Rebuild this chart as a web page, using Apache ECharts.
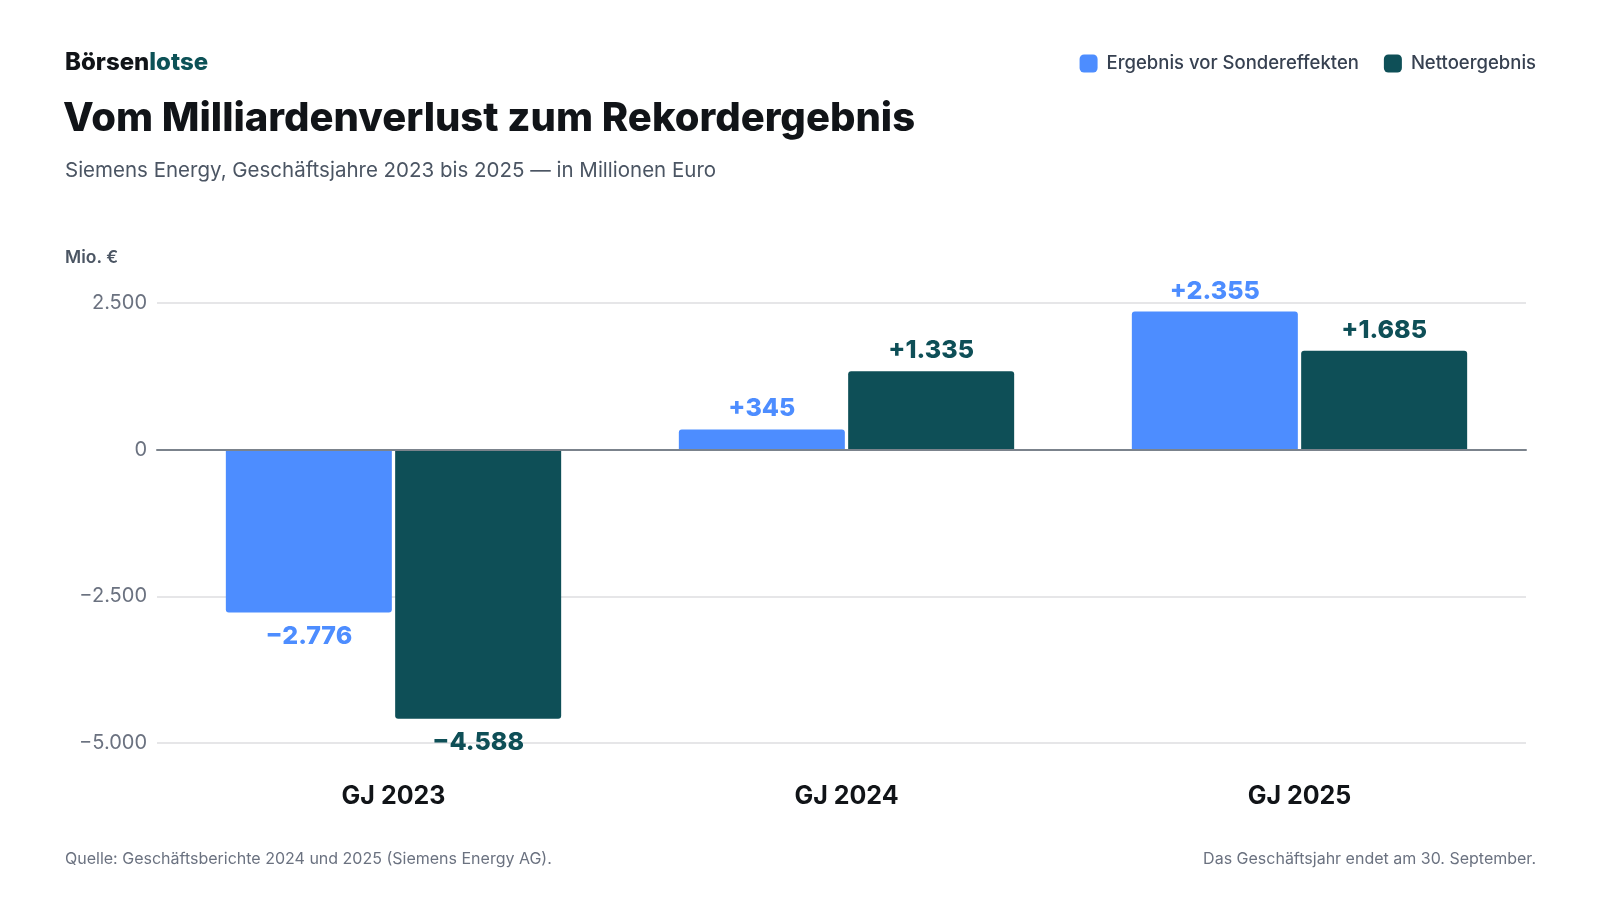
<!DOCTYPE html>
<html>
<head>
<meta charset="utf-8">
<script src="https://cdn.jsdelivr.net/npm/echarts@6/dist/echarts.min.js"></script>
<style>
  html, body { margin: 0; padding: 0; background: #fff; }
  #chart { width: 1600px; height: 900px; }
</style>
</head>
<body>
<div id="chart"></div>
<script>
var categories = ['GJ 2023', 'GJ 2024', 'GJ 2025'];
var vorSondereffekten = [-2776, 345, 2355];
var nettoergebnis = [-4588, 1335, 1685];
var yMin = -5000, yMax = 2500, yStep = 2500;

var BLUE = '#4d8dff';
var TEAL = '#0e4f57';
var FONT = 'Inter, "Noto Sans", sans-serif';

// 1234 -> "1.234", negative mit echtem Minuszeichen
function fmt(v, withPlus) {
    var s = String(Math.abs(Math.round(v))).replace(/\B(?=(\d{3})+(?!\d))/g, '.');
    if (v < 0) return '\u2212' + s;
    if (v > 0 && withPlus) return '+' + s;
    return s;
}

function toItems(values) {
    return values.map(function (v) {
        var neg = v < 0;
        return {
            value: v,
            itemStyle: { borderRadius: neg ? [0, 0, 3, 3] : [3, 3, 0, 0] },
            label: { position: neg ? 'bottom' : 'top', distance: neg ? 11 : 8 }
        };
    });
}

var myChart = echarts.init(document.getElementById('chart'));
var option = {
    backgroundColor: '#fff',
    textStyle: { fontFamily: FONT },
    title: [{
        text: '{a|Börsen}{b|lotse}',
        left: 65, top: 51, padding: 0,
        textStyle: {
            rich: {
                a: { fontSize: 24, fontWeight: 800, color: '#111418', fontFamily: FONT },
                b: { fontSize: 24, fontWeight: 800, color: '#0d5257', fontFamily: FONT }
            }
        }
    }, {
        text: 'Vom Milliardenverlust zum Rekordergebnis',
        left: 63, top: 99, padding: 0,
        textStyle: { fontSize: 40, fontWeight: 800, color: '#111418', fontFamily: FONT }
    }, {
        text: 'Siemens Energy, Geschäftsjahre 2023 bis 2025 \u2014 in Millionen Euro',
        left: 65, top: 160, padding: 0,
        textStyle: { fontSize: 20.5, fontWeight: 'normal', color: '#4b5563', fontFamily: FONT }
    }, {
        text: 'Mio. \u20ac',
        left: 65, top: 249, padding: 0,
        textStyle: { fontSize: 17.5, fontWeight: 600, color: '#4b5563', fontFamily: FONT }
    }, {
        text: 'Quelle: Geschäftsberichte 2024 und 2025 (Siemens Energy AG).',
        left: 65, top: 851, padding: 0,
        textStyle: { fontSize: 16, fontWeight: 'normal', color: '#6b7280', fontFamily: FONT }
    }, {
        text: 'Das Geschäftsjahr endet am 30. September.',
        right: 64, top: 851, padding: 0,
        textStyle: { fontSize: 16, fontWeight: 'normal', color: '#6b7280', fontFamily: FONT }
    }],
    legend: {
        right: 64, top: 54, padding: 0,
        icon: 'roundRect',
        itemWidth: 18, itemHeight: 18, itemGap: 25,
        textStyle: { fontSize: 18.5, fontWeight: 500, color: '#374151', fontFamily: FONT, padding: [0, 0, 0, 4] },
        data: ['Ergebnis vor Sondereffekten', 'Nettoergebnis']
    },
    // grid 0: Balken, grid 1: nur Hilfslinien (etwas breiter nach links)
    grid: [
        { left: 167, right: 74, top: 303, bottom: 157 },
        { left: 157, right: 74, top: 303, bottom: 157 }
    ],
    xAxis: [{
        type: 'category',
        gridIndex: 0,
        data: categories,
        axisLine: { show: false, onZero: false },
        axisTick: { show: false },
        axisLabel: { margin: 41, fontSize: 25, fontWeight: 'bold', color: '#111418', fontFamily: FONT }
    }, {
        type: 'category',
        gridIndex: 1,
        data: categories,
        z: 10,
        axisLine: { show: true, onZero: true, lineStyle: { color: '#7b838c', width: 2 } },
        axisTick: { show: false },
        axisLabel: { show: false }
    }],
    yAxis: [{
        type: 'value',
        gridIndex: 0,
        min: yMin, max: yMax, interval: yStep,
        axisLine: { show: false },
        axisTick: { show: false },
        splitLine: { show: false },
        axisLabel: {
            margin: 20, fontSize: 20, color: '#6b7280', fontFamily: FONT,
            formatter: function (v) { return fmt(v, false); }
        }
    }, {
        type: 'value',
        gridIndex: 1,
        min: yMin, max: yMax, interval: yStep,
        axisLine: { show: false },
        axisTick: { show: false },
        axisLabel: { show: false },
        splitLine: { lineStyle: { color: '#e6e6e8', width: 2 } }
    }],
    series: [{
        name: 'Ergebnis vor Sondereffekten',
        type: 'bar',
        data: toItems(vorSondereffekten),
        barWidth: 166,
        barGap: '2%',
        itemStyle: { color: BLUE },
        label: {
            show: true,
            fontSize: 25, fontWeight: 800, color: BLUE, fontFamily: FONT,
            formatter: function (p) { return fmt(p.value, true); }
        }
    }, {
        name: 'Nettoergebnis',
        type: 'bar',
        data: toItems(nettoergebnis),
        barWidth: 166,
        barGap: '2%',
        itemStyle: { color: TEAL },
        label: {
            show: true,
            fontSize: 25, fontWeight: 800, color: TEAL, fontFamily: FONT,
            formatter: function (p) { return fmt(p.value, true); }
        }
    }]
};

myChart.setOption(option);
</script>
</body>
</html>
